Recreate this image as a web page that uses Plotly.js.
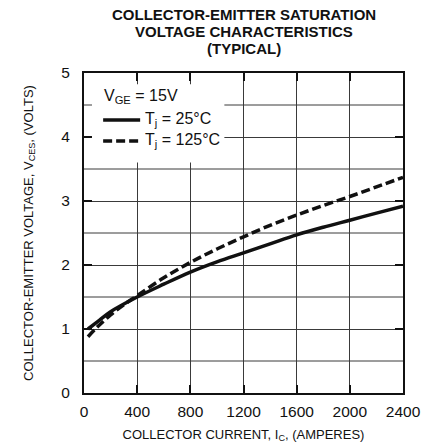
<!DOCTYPE html>
<html>
<head>
<meta charset="utf-8">
<script src="https://cdn.plot.ly/plotly-3.0.1.min.js"></script>
<style>html,body{margin:0;padding:0;background:#fff;}#chart{width:430px;height:445px;}</style>
</head>
<body>
<div id="chart"></div>
<script>
const current25 = [30, 100, 200, 400, 600, 800, 1000, 1200, 1400, 1600, 1800, 2000, 2200, 2400];
const vce25 = [1.0, 1.11, 1.27, 1.5, 1.7, 1.89, 2.05, 2.19, 2.33, 2.47, 2.59, 2.70, 2.81, 2.92];
const current125 = [30, 100, 200, 300, 400, 600, 800, 1000, 1200, 1400, 1600, 1800, 2000, 2200, 2400];
const vce125 = [0.88, 1.03, 1.22, 1.38, 1.52, 1.8, 2.04, 2.25, 2.44, 2.62, 2.78, 2.93, 3.07, 3.22, 3.37];
const xTicks = [0, 400, 800, 1200, 1600, 2000, 2400];
const yTicks = [0, 1, 2, 3, 4, 5];
const yMinor = [0.5, 1.5, 2.5, 3.5, 4.5];
const titleLines = ['COLLECTOR-EMITTER SATURATION', 'VOLTAGE CHARACTERISTICS', '(TYPICAL)'];
const legendHeader = 'V<sub>GE</sub> = 15V';
const seriesNames = ['T<sub>j</sub> = 25°C', 'T<sub>j</sub> = 125°C'];

const font = 'Arial';
const ink = '#111';
const grid = '#3a3a3a';
const traces = [
  {x: current25, y: vce25, mode: 'lines', name: seriesNames[0],
   line: {color: ink, width: 3.5, shape: 'spline'}},
  {x: current125, y: vce125, mode: 'lines', name: seriesNames[1],
   line: {color: ink, width: 3.5, dash: '9px,4px', shape: 'spline'}}
];
const shapes = [];
yMinor.forEach(v => shapes.push({type: 'line', layer: 'below', xref: 'paper', yref: 'y', x0: 0, x1: 1, y0: v, y1: v, line: {color: grid, width: 1}}));
// legend box and samples
shapes.push({type: 'rect', xref: 'paper', yref: 'paper', x0: 0.025, x1: 0.44, y0: 0.72, y1: 0.965, fillcolor: '#fff', line: {width: 0}});
shapes.push({type: 'line', xref: 'paper', yref: 'paper', x0: 0.06, x1: 0.176, y0: 0.853, y1: 0.853, line: {color: ink, width: 3.5}});
shapes.push({type: 'line', xref: 'paper', yref: 'paper', x0: 0.06, x1: 0.176, y0: 0.7875, y1: 0.7875, line: {color: ink, width: 3.5, dash: '9px,4px'}});

const annotations = [
  {xref: 'paper', yref: 'paper', x: 0.056, y: 0.928, xanchor: 'left', yanchor: 'middle', showarrow: false,
   text: legendHeader, font: {family: font, size: 16, color: ink}},
  {xref: 'paper', yref: 'paper', x: 0.186, y: 0.856, xanchor: 'left', yanchor: 'middle', showarrow: false,
   text: seriesNames[0], font: {family: font, size: 16, color: ink}},
  {xref: 'paper', yref: 'paper', x: 0.186, y: 0.79, xanchor: 'left', yanchor: 'middle', showarrow: false,
   text: seriesNames[1], font: {family: font, size: 16, color: ink}}
];
const titleY = [1.184, 1.131, 1.078];
titleLines.forEach((t, i) => annotations.push({xref: 'paper', yref: 'paper', x: 0.5, y: titleY[i],
  xanchor: 'center', yanchor: 'middle', showarrow: false, borderpad: 0, text: '<b>' + t + '</b>',
  font: {family: font, size: 15, color: ink}}));

const layout = {
  width: 430, height: 445,
  margin: {l: 84, r: 27, t: 73, b: 52},
  paper_bgcolor: '#fff', plot_bgcolor: '#fff',
  font: {family: font, size: 14, color: ink},
  showlegend: false,
  xaxis: {
    showline: true, mirror: 'ticks', linecolor: ink, linewidth: 2,
    ticks: 'inside', ticklen: 8, tickwidth: 2, tickcolor: ink,
    showgrid: true, gridcolor: grid, gridwidth: 1, zeroline: false,
    tickfont: {family: font, size: 15.5, color: ink}, ticklabelstandoff: 3,
    range: [0, 2400], tickvals: xTicks, ticktext: xTicks.map(String),
    title: {text: 'COLLECTOR CURRENT, I<sub>C</sub>, (AMPERES)', font: {family: font, size: 13, color: ink}, standoff: 11}
  },
  yaxis: {
    showline: true, mirror: 'ticks', linecolor: ink, linewidth: 2,
    ticks: 'inside', ticklen: 8, tickwidth: 2, tickcolor: ink,
    showgrid: true, gridcolor: grid, gridwidth: 1, zeroline: false,
    tickfont: {family: font, size: 15.5, color: ink}, ticklabelstandoff: 9,
    range: [0, 5], tickvals: yTicks, ticktext: yTicks.map(String),
    title: {text: 'COLLECTOR-EMITTER VOLTAGE, V<sub>CES</sub>, (VOLTS)', font: {family: font, size: 13, color: ink}, standoff: 25}
  },
  shapes: shapes,
  annotations: annotations
};
Plotly.newPlot('chart', traces, layout, {displayModeBar: false});
</script>
</body>
</html>
